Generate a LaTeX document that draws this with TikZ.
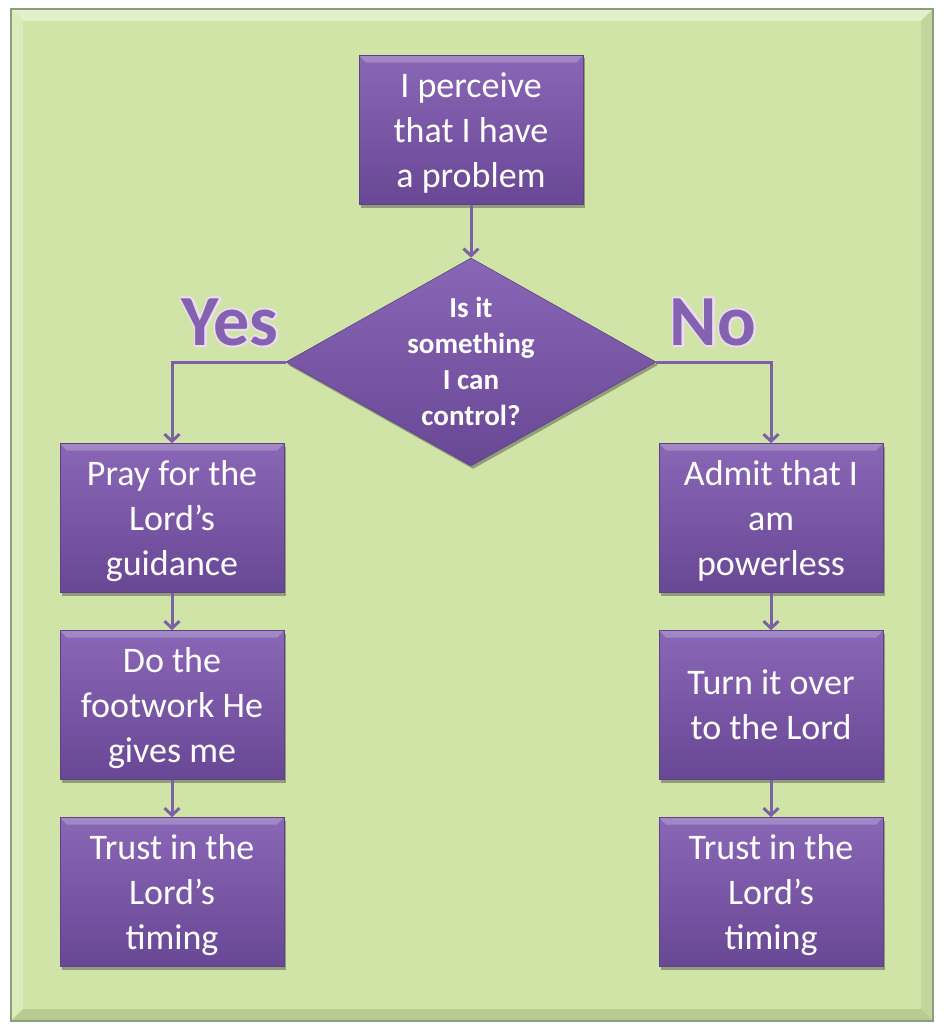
\documentclass[tikz,border=0pt]{standalone}
\usepackage{fontspec}
\setmainfont{Carlito}
\usetikzlibrary{shapes.geometric,arrows.meta,shadows}
\definecolor{bg}{HTML}{D1E4A7}
\definecolor{bglight}{HTML}{E3EFC9}
\definecolor{bgdark}{HTML}{B8CC92}
\definecolor{frame}{HTML}{8E9C80}
\definecolor{boxtop}{HTML}{8A67B6}
\definecolor{boxbot}{HTML}{684795}
\definecolor{boxedge}{HTML}{5E4288}
\definecolor{conn}{HTML}{7D61A6}
\definecolor{lblfill}{HTML}{8462B0}
\newcommand{\outlinetext}[1]{\rlap{\special{pdf:code 1 Tr 4 w 1 j 0.93 0.86 0.95 RG}#1\special{pdf:code 0 Tr}}#1}
\begin{document}
\begin{tikzpicture}[x=1pt,y=-1pt,
  bevel/.style={path picture={\fill[white,opacity=0.22]
      (path picture bounding box.north west) -- (path picture bounding box.north east)
      -- ([xshift=-7pt,yshift=-7pt]path picture bounding box.north east)
      -- ([xshift=7pt,yshift=-7pt]path picture bounding box.north west) -- cycle;}},
  stepbox/.style={rectangle, minimum width=224pt, minimum height=149pt, inner sep=0pt,
    top color=boxtop, bottom color=boxbot, draw=boxedge, line width=0.6pt,
    text=white, font=\fontsize{36}{45}\selectfont, align=center, text depth=-1pt, bevel,
    drop shadow={shadow xshift=2pt, shadow yshift=-3pt, opacity=0.4, fill=black!80}},
  decision/.style={diamond, minimum width=370pt, minimum height=208pt, inner sep=0pt,
    top color=boxtop, bottom color=boxbot, draw=boxedge, line width=0.6pt,
    drop shadow={shadow xshift=2pt, shadow yshift=-3pt, opacity=0.4, fill=black!80}},
  qtext/.style={text=white, font=\fontsize{29}{36}\selectfont\bfseries, align=center},
  bigfill/.style={text=lblfill, font=\fontsize{72}{80}\selectfont\bfseries, inner sep=0pt},
  conline/.style={draw=conn, line width=3pt, -{Straight Barb[length=7pt,width=15pt,line width=3pt]}}
]
\useasboundingbox (0,0) rectangle (944,1030);
\fill[white] (0,0) rectangle (944,1030);
% outer frame with bevel
\fill[bg] (11,9) rectangle (933,1021);
\fill[bglight] (11,9) -- (933,9) -- (921,21) -- (23,21) -- cycle;
\fill[bglight!60!bg] (11,9) -- (23,21) -- (23,1009) -- (11,1021) -- cycle;
\fill[bgdark!60!bg] (933,9) -- (933,1021) -- (921,1009) -- (921,21) -- cycle;
\fill[bgdark] (11,1021) -- (933,1021) -- (921,1009) -- (23,1009) -- cycle;
\draw[frame, line width=1.5pt] (11,9) rectangle (933,1021);

% nodes
\node[stepbox] (top) at (471,130) {I perceive\\that I have\\a problem};
\node[decision] (q) at (471,362) {};
\node[qtext] (qt) at (471,361) {Is it\\something\\I can\\control?};

\node[stepbox] (l1) at (172,518) {Pray for the\\Lord’s\\guidance};
\node[stepbox] (l2) at (172,705) {Do the\\footwork He\\gives me};
\node[stepbox] (l3) at (172,892) {Trust in the\\Lord’s\\timing};

\node[stepbox] (r1) at (771,518) {Admit that I\\am\\powerless};
\node[stepbox] (r2) at (771,705) {Turn it over\\to the Lord};
\node[stepbox] (r3) at (771,892) {Trust in the\\Lord’s\\timing};

% Yes / No labels with light outline
\node[bigfill] (yes) at (230,322) {\outlinetext{Yes}};
\node[bigfill] (no) at (713,322) {\outlinetext{No}};

% connectors
\draw[conline] (top.south) -- (q.north);
\draw[conline] (q.west) -| (l1.north);
\draw[conline] (q.east) -| (r1.north);
\draw[conline] (l1.south) -- (l2.north);
\draw[conline] (l2.south) -- (l3.north);
\draw[conline] (r1.south) -- (r2.north);
\draw[conline] (r2.south) -- (r3.north);
\end{tikzpicture}
\end{document}
